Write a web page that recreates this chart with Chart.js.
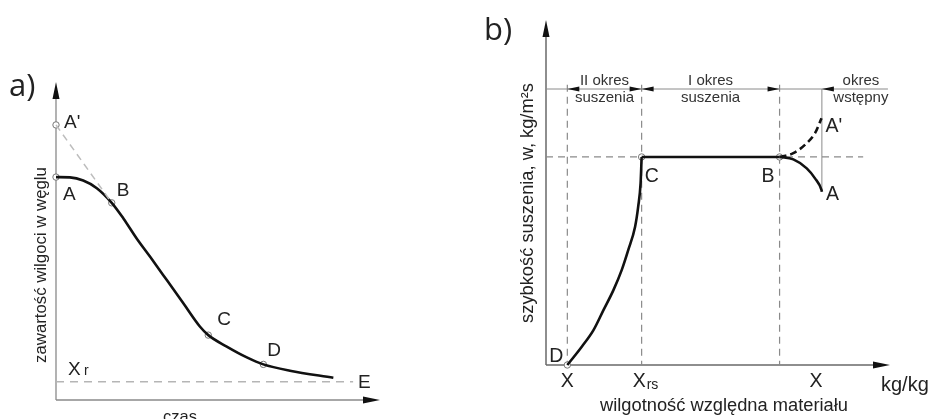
<!DOCTYPE html>
<html>
<head>
<meta charset="utf-8">
<script src="https://cdn.jsdelivr.net/npm/chart.js@4.4.1/dist/chart.umd.min.js"></script>
<style>
    html, body { margin: 0; padding: 0; background: #fff; }
    #wrap { position: relative; width: 929px; height: 419px; overflow: hidden; }
    #chartA { position: absolute; left: 0; top: 0; }
    #chartB { position: absolute; left: 460px; top: 0; }
</style>
</head>
<body>
<div id="wrap">
    <canvas id="chartA" width="460" height="419" style="width:460px;height:419px"></canvas>
    <canvas id="chartB" width="469" height="419" style="width:469px;height:419px"></canvas>
</div>
<script>
// ---- a) moisture content vs time (arbitrary units 0..10) ----
const aCurveX = [0, 0.43, 0.84, 1.26, 1.72, 2.08, 2.49, 2.90, 3.42, 3.93, 4.44, 4.70, 5.27, 5.89, 6.40, 7.22, 8.56];
const aCurveY = [7.01, 7.00, 6.90, 6.66, 6.20, 5.71, 5.08, 4.51, 3.77, 3.04, 2.31, 2.04, 1.68, 1.34, 1.12, 0.92, 0.70];
const aTangentX = [0, 1.72];
const aTangentY = [8.65, 6.20];
const aEquilibriumX = [0, 9.17];
const aEquilibriumY = [0.57, 0.57];
const aPointNames = ["A'", 'A', 'B', 'C', 'D'];
const aPointX = [0, 0, 1.72, 4.70, 6.40];
const aPointY = [8.65, 7.01, 6.20, 2.04, 1.12];

// ---- b) drying rate vs moisture (arbitrary units 0..10) ----
const bFallX = [0.62, 1.04, 1.38, 1.67, 1.96, 2.20, 2.39, 2.59, 2.68, 2.75, 2.78];
const bFallY = [0, 0.53, 1.01, 1.59, 2.17, 2.75, 3.33, 4.01, 4.59, 5.27, 6.03];
const bConstX = [2.78, 6.79];
const bConstY = [6.03, 6.03];
const bWarmX = [6.79, 7.19, 7.58, 7.82, 8.01, 8.02];
const bWarmY = [6.03, 5.96, 5.70, 5.41, 5.07, 5.02];
const bCoolX = [6.79, 7.19, 7.58, 7.82, 8.01];
const bCoolY = [6.03, 6.14, 6.43, 6.72, 7.15];
const bRateLevel = 6.03;
const bPeriodTop = 8.0;
const bBounds = [0.62, 2.78, 6.79, 8.02];
const bPeriodLabels = [['II okres', 'suszenia'], ['I okres', 'suszenia'], ['okres', 'wstępny']];
const bPointNames = ['D', 'C', 'B'];
const bPointX = [0.62, 2.78, 6.79];
const bPointY = [0, 6.03, 6.03];

const FONT = '"Liberation Sans", Arial, sans-serif';
const INK = '#222';

function pts(xs, ys) {
    return xs.map((x, i) => ({ x: x, y: ys[i] }));
}

function lineSet(xs, ys, opts) {
    return Object.assign({
        data: pts(xs, ys),
        borderColor: '#111',
        borderWidth: 2.6,
        pointRadius: 0,
        tension: 0.4,
        cubicInterpolationMode: 'monotone',
        fill: false,
        clip: false
    }, opts || {});
}

function markerSet(xs, ys) {
    return {
        data: pts(xs, ys),
        showLine: false,
        pointRadius: 3.2,
        pointBackgroundColor: '#fff',
        pointBorderColor: '#777',
        pointBorderWidth: 1,
        clip: false
    };
}

function baseOptions(padding) {
    return {
        responsive: false,
        animation: false,
        layout: { padding: padding },
        scales: {
            x: { type: 'linear', min: 0, max: 10, display: false },
            y: { type: 'linear', min: 0, max: 10, display: false }
        },
        plugins: { legend: { display: false }, tooltip: { enabled: false } }
    };
}

function px(chart, x, y) {
    return [chart.scales.x.getPixelForValue(x), chart.scales.y.getPixelForValue(y)];
}

function arrowHead(ctx, tx, ty, dir, len, half) {
    // dir: 'up', 'right', 'left'
    ctx.beginPath();
    ctx.moveTo(tx, ty);
    if (dir === 'up') { ctx.lineTo(tx - half, ty + len); ctx.lineTo(tx + half, ty + len); }
    if (dir === 'right') { ctx.lineTo(tx - len, ty - half); ctx.lineTo(tx - len, ty + half); }
    if (dir === 'left') { ctx.lineTo(tx + len, ty - half); ctx.lineTo(tx + len, ty + half); }
    ctx.closePath();
    ctx.fill();
}

function text(ctx, s, x, y, size, align, family) {
    ctx.font = size + 'px ' + (family || FONT);
    ctx.textAlign = align || 'left';
    ctx.textBaseline = 'alphabetic';
    ctx.fillText(s, x, y);
}

function vText(ctx, s, cx, cy, size) {
    ctx.save();
    ctx.translate(cx, cy);
    ctx.rotate(-Math.PI / 2);
    ctx.font = size + 'px ' + FONT;
    ctx.textAlign = 'center';
    ctx.textBaseline = 'middle';
    ctx.fillText(s, 0, 0);
    ctx.restore();
}

function axes(chart, color, width, xTip, yTip) {
    const ctx = chart.ctx;
    const [ox, oy] = px(chart, 0, 0);
    ctx.save();
    ctx.strokeStyle = color;
    ctx.lineWidth = width;
    ctx.beginPath();
    ctx.moveTo(ox, oy); ctx.lineTo(ox, yTip + 6);
    ctx.moveTo(ox, oy); ctx.lineTo(xTip - 6, oy);
    ctx.stroke();
    ctx.fillStyle = '#111';
    arrowHead(ctx, ox, yTip, 'up', 17, 3.5);
    arrowHead(ctx, xTip, oy, 'right', 17, 3.5);
    ctx.restore();
}

// ---------- chart a ----------
const plotA = {
    id: 'plotA',
    beforeDatasetsDraw(chart) {
        axes(chart, '#8a8a8a', 1.3, chart.chartArea.right, chart.chartArea.top);
    },
    afterDatasetsDraw(chart) {
        const ctx = chart.ctx;
        ctx.save();
        ctx.fillStyle = INK;
        text(ctx, 'a)', 9, 96, 31, 'left', '"Open Sans", sans-serif');
        const offs = [[8, 3], [7, 23], [5, -7], [9, -10], [4, -8]];
        aPointNames.forEach((n, i) => {
            const [x, y] = px(chart, aPointX[i], aPointY[i]);
            text(ctx, n, x + offs[i][0], y + offs[i][1], 19);
        });
        const [x0, y0] = px(chart, aEquilibriumX[0], aEquilibriumY[0]);
        text(ctx, 'X', x0 + 12, y0 - 7, 19);
        text(ctx, 'r', x0 + 28, y0 - 7, 14);
        const [x1, y1] = px(chart, aEquilibriumX[1], aEquilibriumY[1]);
        text(ctx, 'E', x1 + 5, y1 + 6, 19);
        vText(ctx, 'zawartość wilgoci w węglu', 41, 265, 16.8);
        text(ctx, 'czas', 180, 422, 16.5, 'center');
        ctx.restore();
    }
};

new Chart(document.getElementById('chartA'), {
    type: 'line',
    data: {
        datasets: [
            lineSet(aTangentX, aTangentY, { borderColor: '#bdbdbd', borderWidth: 1.5, borderDash: [7, 5], tension: 0 }),
            lineSet(aEquilibriumX, aEquilibriumY, { borderColor: '#b5b5b5', borderWidth: 1.5, borderDash: [8, 6], tension: 0 }),
            lineSet(aCurveX, aCurveY),
            markerSet(aPointX, aPointY)
        ]
    },
    options: baseOptions({ left: 56, top: 82, right: 80, bottom: 19 }),
    plugins: [plotA]
});

// ---------- chart b ----------
const plotB = {
    id: 'plotB',
    beforeDatasetsDraw(chart) {
        const ctx = chart.ctx;
        axes(chart, '#6a6a6a', 1.5, chart.chartArea.right, chart.chartArea.top);
        ctx.save();
        // guide lines
        ctx.strokeStyle = '#8a8a8a';
        ctx.lineWidth = 1.2;
        ctx.setLineDash([7, 5]);
        ctx.beginPath();
        [bBounds[0], bBounds[1], bBounds[2]].forEach(b => {
            const [x, yTop] = px(chart, b, bPeriodTop + 0.12);
            const [, yBot] = px(chart, b, 0);
            ctx.moveTo(x, yTop); ctx.lineTo(x, yBot);
        });
        const [hx0, hy] = px(chart, 0, bRateLevel);
        const [hx1] = px(chart, 9.22, bRateLevel);
        ctx.moveTo(hx0, hy); ctx.lineTo(hx1, hy);
        ctx.stroke();
        ctx.setLineDash([]);
        ctx.lineWidth = 1;
        ctx.beginPath();
        const [tx0, ty] = px(chart, 0, bPeriodTop);
        const [tx1] = px(chart, 9.94, bPeriodTop);
        ctx.moveTo(tx0, ty); ctx.lineTo(tx1, ty);
        const [vx, vy0] = px(chart, bBounds[3], bPeriodTop);
        const [, vy1] = px(chart, bBounds[3], bWarmY[bWarmY.length - 1]);
        ctx.moveTo(vx, vy0); ctx.lineTo(vx, vy1);
        ctx.stroke();
        // period arrows
        ctx.fillStyle = '#111';
        const bx = bBounds.map(b => px(chart, b, bPeriodTop)[0]);
        arrowHead(ctx, bx[0], ty, 'left', 12, 2.6);
        arrowHead(ctx, bx[1], ty, 'right', 12, 2.6);
        arrowHead(ctx, bx[1], ty, 'left', 12, 2.6);
        arrowHead(ctx, bx[2], ty, 'right', 12, 2.6);
        arrowHead(ctx, bx[3], ty, 'left', 12, 2.6);
        ctx.restore();
    },
    afterDatasetsDraw(chart) {
        const ctx = chart.ctx;
        ctx.save();
        ctx.fillStyle = INK;
        text(ctx, 'b)', 24, 40, 31, 'left', '"Open Sans", sans-serif');
        // period labels
        const bx = bBounds.map(b => px(chart, b, bPeriodTop)[0]);
        const [, ty] = px(chart, 0, bPeriodTop);
        const centers = [(bx[0] + bx[1]) / 2, (bx[1] + bx[2]) / 2, bx[3] + 39];
        ctx.fillStyle = '#333';
        bPeriodLabels.forEach((l, i) => {
            text(ctx, l[0], centers[i], ty - 4, 15, 'center');
            text(ctx, l[1], centers[i], ty + 13, 15, 'center');
        });
        ctx.fillStyle = INK;
        const offs = [[-18, -3], [3, 25], [-18, 25]];
        bPointNames.forEach((n, i) => {
            const [x, y] = px(chart, bPointX[i], bPointY[i]);
            text(ctx, n, x + offs[i][0], y + offs[i][1], 19.5);
        });
        const [ax1, ay1] = px(chart, bCoolX[bCoolX.length - 1], bCoolY[bCoolY.length - 1]);
        text(ctx, "A'", ax1 + 4, ay1 + 14, 19.5);
        const [ax2, ay2] = px(chart, bWarmX[bWarmX.length - 1], bWarmY[bWarmY.length - 1]);
        text(ctx, 'A', ax2 + 4, ay2 + 8, 19.5);
        // x labels
        const [, oy] = px(chart, 0, 0);
        text(ctx, 'X', bx[0], oy + 22, 19.5, 'center');
        text(ctx, 'X', bx[1] - 9, oy + 22, 19.5, 'left');
        text(ctx, 'rs', bx[1] + 5, oy + 24, 14, 'left');
        text(ctx, 'X', bx[3] - 6, oy + 22, 19.5, 'center');
        text(ctx, 'kg/kg', 421, oy + 26, 20, 'left');
        text(ctx, 'wilgotność względna materiału', 264, oy + 46, 18.3, 'center');
        vText(ctx, 'szybkość suszenia, w, kg/m²s', 68, 203, 18.3);
        ctx.restore();
    }
};

new Chart(document.getElementById('chartB'), {
    type: 'line',
    data: {
        datasets: [
            lineSet(bFallX, bFallY),
            lineSet(bConstX, bConstY, { tension: 0 }),
            lineSet(bWarmX, bWarmY),
            lineSet(bCoolX, bCoolY, { borderDash: [7, 4] }),
            markerSet(bPointX, bPointY)
        ]
    },
    options: baseOptions({ left: 86, top: 20, right: 39, bottom: 54 }),
    plugins: [plotB]
});
</script>
</body>
</html>
